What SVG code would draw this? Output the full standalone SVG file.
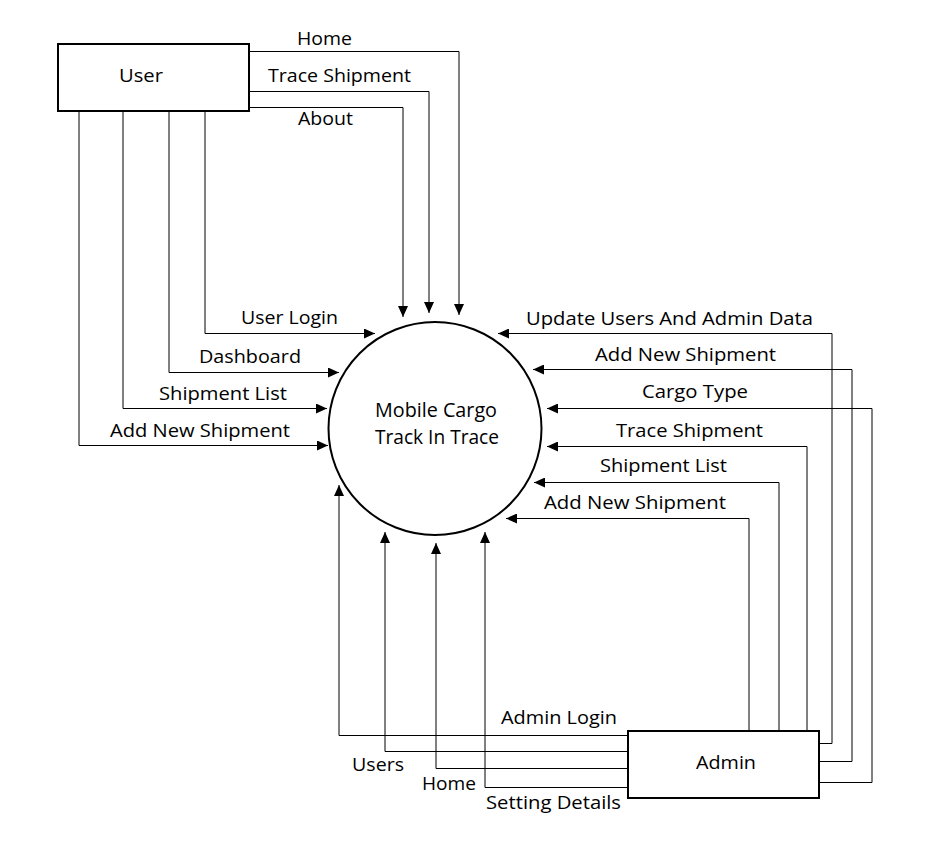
<svg xmlns="http://www.w3.org/2000/svg" width="935" height="853" viewBox="0 0 935 853">
<style>
.lbl{font-family:"Open Sans","Noto Sans","Liberation Sans",sans-serif;font-size:18px;fill:#000}
.big{font-family:"Open Sans","Noto Sans","Liberation Sans",sans-serif;font-size:20px;fill:#000}
.box{fill:#fff;stroke:#000;stroke-width:2}
.c{fill:none;stroke:#000;stroke-width:1;marker-end:url(#ah)}
</style>
<defs>
<marker id="ah" markerUnits="userSpaceOnUse" markerWidth="12" markerHeight="10" refX="11" refY="5" orient="auto">
<path d="M0,0 L11,5 L0,10 Z" fill="#000"/>
</marker>
</defs>
<rect width="935" height="853" fill="#fff"/>
<g id="connectors">
<path class="c" d="M249,51.5 H459 V315"/>
<path class="c" d="M249,91.5 H429 V313"/>
<path class="c" d="M249,107.5 H403 V317"/>
<path class="c" d="M205,111 V333.5 H375"/>
<path class="c" d="M169,111 V372.5 H339"/>
<path class="c" d="M123,111 V408.5 H327"/>
<path class="c" d="M79,111 V445.5 H328"/>
<path class="c" d="M819,743.5 H832 V333.5 H498"/>
<path class="c" d="M819,761.5 H852 V369.5 H533"/>
<path class="c" d="M819,782.5 H872 V408.5 H547"/>
<path class="c" d="M807,730 V446.5 H547"/>
<path class="c" d="M779,730 V482.5 H534"/>
<path class="c" d="M749,730 V518.5 H506"/>
<path class="c" d="M628,735.5 H339 V485"/>
<path class="c" d="M628,751.5 H385 V532"/>
<path class="c" d="M628,768.5 H436 V543"/>
<path class="c" d="M628,787.5 H485 V532"/>
</g>
<g id="labels">
<text class="lbl" x="297" y="45" textLength="55" lengthAdjust="spacingAndGlyphs">Home</text>
<text class="lbl" x="268" y="82" textLength="143" lengthAdjust="spacingAndGlyphs">Trace Shipment</text>
<text class="lbl" x="298" y="125" textLength="55" lengthAdjust="spacingAndGlyphs">About</text>
<text class="lbl" x="241" y="324" textLength="97" lengthAdjust="spacingAndGlyphs">User Login</text>
<text class="lbl" x="199" y="363" textLength="102" lengthAdjust="spacingAndGlyphs">Dashboard</text>
<text class="lbl" x="159" y="400" textLength="128" lengthAdjust="spacingAndGlyphs">Shipment List</text>
<text class="lbl" x="110" y="437" textLength="180" lengthAdjust="spacingAndGlyphs">Add New Shipment</text>
<text class="lbl" x="526" y="325" textLength="287" lengthAdjust="spacingAndGlyphs">Update Users And Admin Data</text>
<text class="lbl" x="595" y="361" textLength="181" lengthAdjust="spacingAndGlyphs">Add New Shipment</text>
<text class="lbl" x="642" y="398" textLength="106" lengthAdjust="spacingAndGlyphs">Cargo Type</text>
<text class="lbl" x="616" y="437" textLength="147" lengthAdjust="spacingAndGlyphs">Trace Shipment</text>
<text class="lbl" x="600" y="472" textLength="127" lengthAdjust="spacingAndGlyphs">Shipment List</text>
<text class="lbl" x="544" y="509" textLength="182" lengthAdjust="spacingAndGlyphs">Add New Shipment</text>
<text class="lbl" x="501" y="724" textLength="116" lengthAdjust="spacingAndGlyphs">Admin Login</text>
<text class="lbl" x="352" y="771" textLength="52" lengthAdjust="spacingAndGlyphs">Users</text>
<text class="lbl" x="422" y="790" textLength="54" lengthAdjust="spacingAndGlyphs">Home</text>
<text class="lbl" x="486" y="809" textLength="135" lengthAdjust="spacingAndGlyphs">Setting Details</text>
</g>
<g id="user">
<rect class="box" x="58" y="44" width="191" height="67"/>
<text class="lbl" x="119" y="82" textLength="44" lengthAdjust="spacingAndGlyphs">User</text>
</g>
<g id="admin">
<rect class="box" x="628" y="731" width="191" height="67"/>
<text class="lbl" x="696" y="769" textLength="60" lengthAdjust="spacingAndGlyphs">Admin</text>
</g>
<g id="process">
<circle cx="435" cy="428.5" r="106.5" fill="#fff" stroke="#000" stroke-width="2"/>
<text class="big" x="375" y="417" textLength="122" lengthAdjust="spacingAndGlyphs">Mobile Cargo</text>
<text class="big" x="375" y="444" textLength="124" lengthAdjust="spacingAndGlyphs">Track In Trace</text>
</g>
</svg>
